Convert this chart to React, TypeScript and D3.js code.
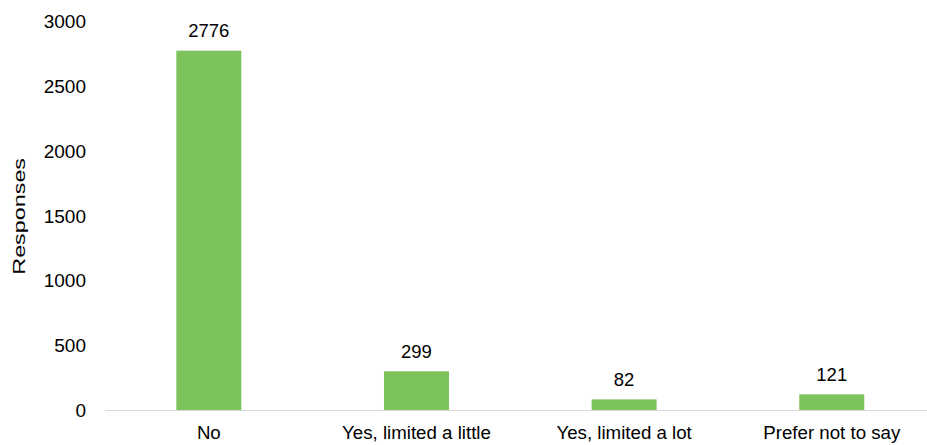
import React from "react";
import * as d3 from "d3";

const categories = ["No", "Yes, limited a little", "Yes, limited a lot", "Prefer not to say"];
const values = [2776, 299, 82, 121];
const yTicks = [0, 500, 1000, 1500, 2000, 2500, 3000];
const yLabel = "Responses";

const W = 927;
const H = 445;
const FONT = "'Liberation Sans', Arial, sans-serif";

export default function App() {
  const x = d3.scaleBand<string>().domain(categories).range([105, 935.6]).paddingInner(0).paddingOuter(0);
  const barW = 65;
  const y = d3.scaleLinear().domain([0, 3000]).range([410, 21.7]);

  return (
    <svg width={W} height={H} style={{ position: "absolute", left: 0, top: 0 }} fontFamily={FONT}>
      <rect x={0} y={0} width={W} height={H} fill="#ffffff" />
      {yTicks.map((t) => (
        <text key={t} x={86} y={y(t)} dy="0.35em" textAnchor="end" fontSize={19} fill="#000">
          {t}
        </text>
      ))}
      <text
        transform={`translate(25,${(y(0) + y(3000)) / 2 + 0.5}) rotate(-90) scale(1.39,1)`}
        textAnchor="middle"
        fontSize={16.8}
        fill="#000"
      >
        {yLabel}
      </text>
      {categories.map((c, i) => {
        const cx = (x(c) as number) + x.bandwidth() / 2;
        return (
          <g key={c}>
            <rect x={cx - barW / 2} y={y(values[i])} width={barW} height={y(0) - y(values[i])} fill="#7DC35C" />
            <text x={cx} y={y(values[i]) - 13.5} textAnchor="middle" fontSize={18.5} fill="#000">
              {values[i]}
            </text>
            <text x={cx} y={439} textAnchor="middle" fontSize={18.7} fill="#000">
              {c}
            </text>
          </g>
        );
      })}
      <line x1={105} x2={W} y1={y(0) + 0.5} y2={y(0) + 0.5} stroke="#d9d9d9" strokeWidth={1} />
    </svg>
  );
}
